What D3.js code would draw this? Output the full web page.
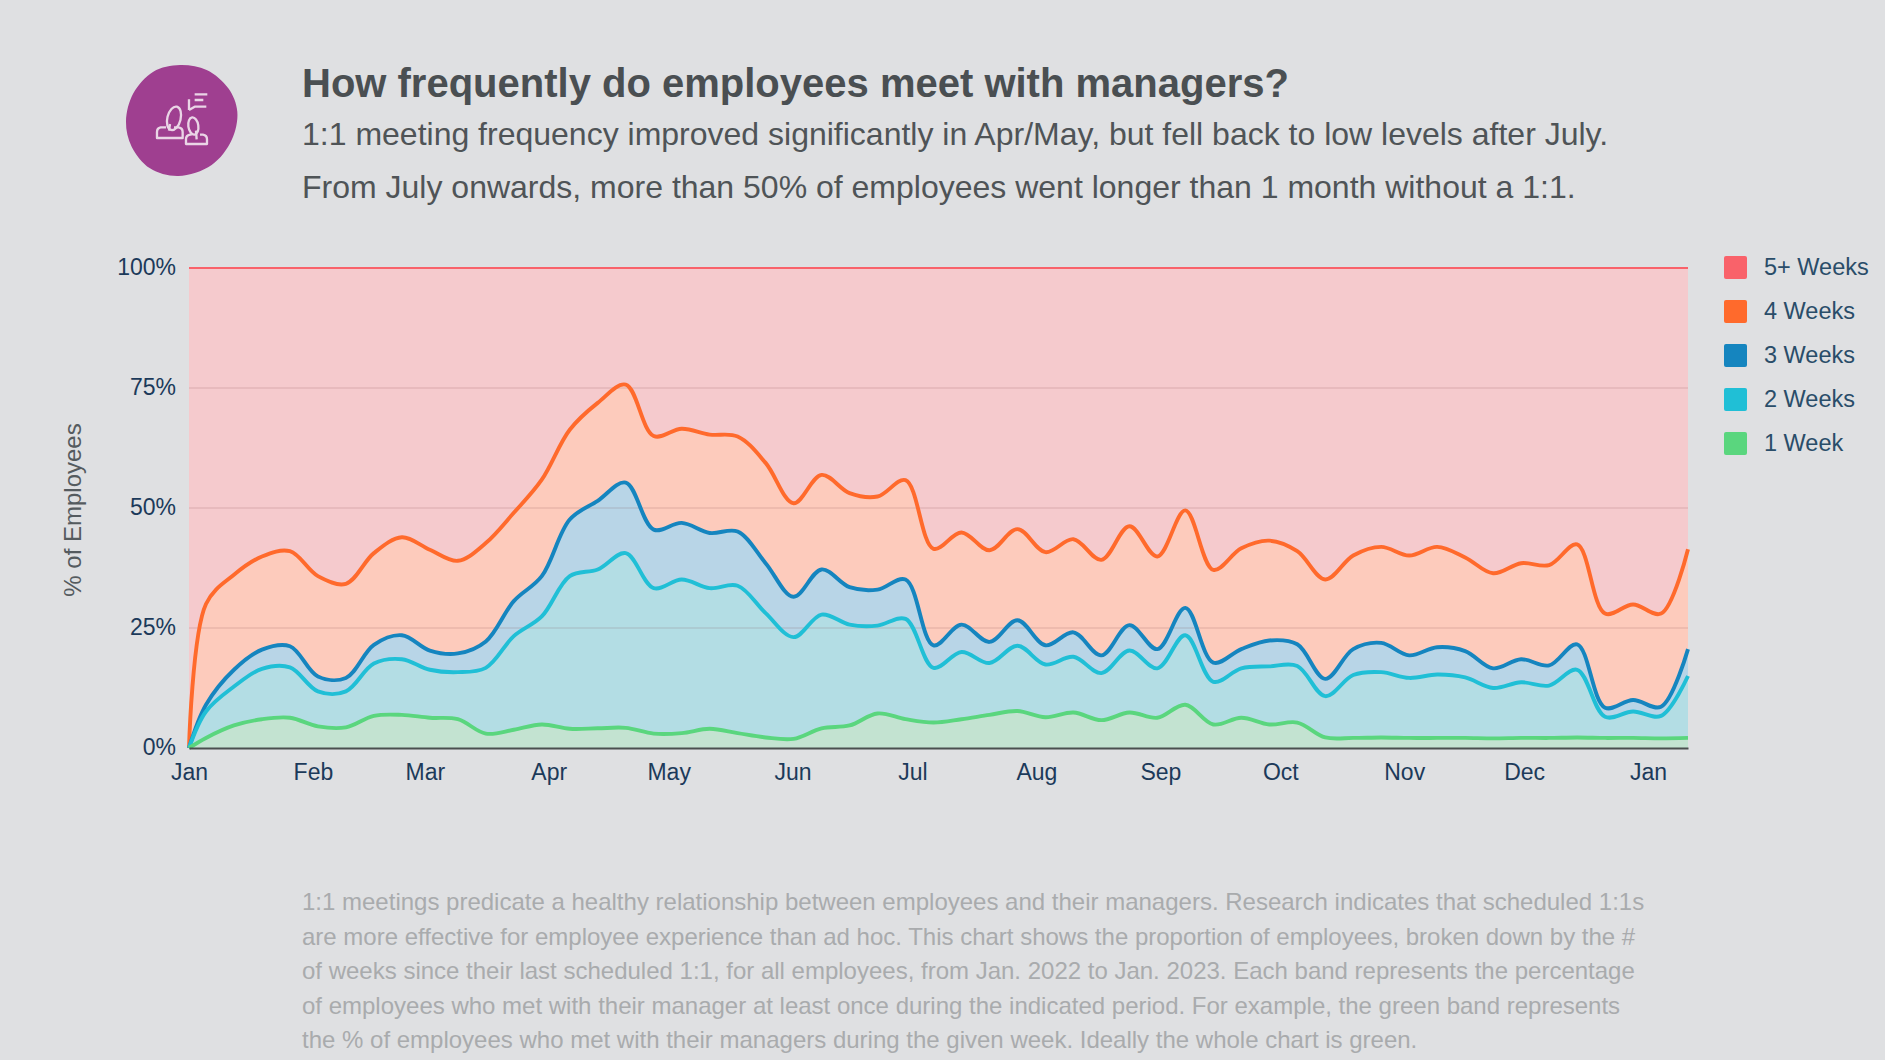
<!DOCTYPE html>
<html>
<head>
<meta charset="utf-8">
<script src="https://cdn.jsdelivr.net/npm/d3@7/dist/d3.min.js"></script>
<style>
body { margin: 0; background: #dfe0e2; }
svg { display: block; font-family: "Liberation Sans", Arial, sans-serif; }
</style>
</head>
<body>
<svg width="1885" height="1060"></svg>
<script>
// I. Data
// weekly readings, cumulative % of employees (first point = Jan 1, last = end of the axis)
let oneWeek = [0, 2.1, 4.7, 6, 6.3, 4.5, 4.3, 6.7, 6.9, 6.3, 6, 3, 3.8, 4.9, 4, 4.1, 4.2, 3, 3.1, 4, 3.1, 2.2, 1.9, 4.1, 4.7, 7.2, 6, 5.3, 6, 6.9, 7.7, 6.4, 7.4, 5.8, 7.4, 6.3, 9, 4.9, 6.3, 4.9, 5.3, 2.2, 2.1, 2.2, 2.1, 2.1, 2.1, 2, 2.1, 2.1, 2.2, 2.1, 2.1, 2, 2.1];
let twoWeeks = [0, 7.6, 12.8, 16.5, 16.8, 11.8, 11.8, 17.6, 18.5, 16.3, 15.8, 16.7, 23.3, 27.4, 35.8, 37.2, 40.6, 33.3, 35.1, 33.3, 33.8, 28.1, 23.1, 27.8, 25.7, 25.5, 26.9, 16.7, 20, 17.7, 21.3, 17.4, 19, 15.6, 20.3, 16.6, 23.5, 13.8, 16.6, 17, 17.1, 10.8, 15.2, 15.8, 14.6, 15.3, 14.7, 12.5, 13.7, 13, 16.3, 6.5, 7.6, 6.7, 15];
let threeWeeks = [0, 9, 16.3, 20.5, 21.2, 14.9, 14.6, 21.5, 23.5, 20.3, 19.7, 22.2, 30.6, 35.8, 47.6, 51.5, 55.3, 45.5, 46.9, 44.8, 45.1, 38.5, 31.5, 37.2, 33.5, 33, 35.1, 21.4, 25.7, 22.1, 26.6, 21.4, 24.1, 19.3, 25.6, 20.6, 29.2, 17.8, 20.6, 22.4, 21.6, 14.4, 20.6, 21.9, 19.3, 21, 20.2, 16.6, 18.5, 17.2, 21.6, 8.4, 10, 8.6, 20.6];
let fourWeeks = [0, 30, 36.1, 39.9, 41, 35.8, 34.2, 40.6, 43.9, 41.3, 39, 42.7, 49, 55.9, 66.3, 71.9, 75.7, 65, 66.5, 65.3, 64.9, 59.4, 51, 56.9, 53.1, 52.4, 55.8, 41.5, 44.9, 41.2, 45.6, 40.8, 43.5, 39.2, 46.2, 39.9, 49.5, 37.1, 41.6, 43.2, 41, 35.1, 40.1, 41.9, 40.1, 41.9, 39.7, 36.4, 38.5, 38.1, 42.4, 28, 29.9, 28, 41.4];
let fiveWeeks = oneWeek.map(() => 100);

let seriesNames = ["5+ Weeks", "4 Weeks", "3 Weeks", "2 Weeks", "1 Week"];
let lineColors = ["#f9626a", "#ff6a2c", "#1585bf", "#20bfd6", "#5ad67e"];
let bandColors = ["#f5cacd", "#fdcbbc", "#b8d5e7", "#b3dde4", "#c3e3d1"];
let seriesValues = [fiveWeeks, fourWeeks, threeWeeks, twoWeeks, oneWeek];

let yTicks = [0, 25, 50, 75, 100];

let subtitleLines = [
    "1:1 meeting frequency improved significantly in Apr/May, but fell back to low levels after July.",
    "From July onwards, more than 50% of employees went longer than 1 month without a 1:1."
];
let noteLines = [
    "1:1 meetings predicate a healthy relationship between employees and their managers. Research indicates that scheduled 1:1s",
    "are more effective for employee experience than ad hoc. This chart shows the proportion of employees, broken down by the #",
    "of weeks since their last scheduled 1:1, for all employees, from Jan. 2022 to Jan. 2023. Each band represents the percentage",
    "of employees who met with their manager at least once during the indicated period. For example, the green band represents",
    "the % of employees who met with their managers during the given week. Ideally the whole chart is green."
];

// dates of the points
let dates = [new Date(2022, 0, 1)];
for (let k = 0; k < 53; k++) dates.push(new Date(2022, 0, 5 + 7 * k, 6));
dates.push(new Date(2023, 0, 11));

// II. Drawing
let svg = d3.select("svg");

let x = d3.scaleTime().domain([dates[0], dates[dates.length - 1]]).range([189, 1688]);
let y = d3.scaleLinear().domain([0, 100]).range([748, 268]);

// bands
let band = d3.area()
    .x(d => x(d.date))
    .y0(d => y(d.low))
    .y1(d => y(d.high))
    .curve(d3.curveCatmullRom);

let line = d3.line()
    .x(d => x(d.date))
    .y(d => y(d.high))
    .curve(d3.curveCatmullRom);

seriesValues.forEach(function (values, i) {
    let lower = seriesValues[i + 1];
    let points = values.map((v, j) => ({ date: dates[j], high: v, low: lower ? lower[j] : 0 }));
    svg.append("path").attr("d", band(points)).attr("fill", bandColors[i]);
});

// grid
svg.append("g").selectAll("line")
    .data(yTicks.filter(t => t > 0 && t < 100))
    .join("line")
    .attr("x1", x.range()[0])
    .attr("x2", x.range()[1])
    .attr("y1", d => y(d))
    .attr("y2", d => y(d))
    .attr("stroke", "rgba(120,60,60,0.11)")
    .attr("stroke-width", 2);

// lines on top of the bands
seriesValues.forEach(function (values, i) {
    let points = values.map((v, j) => ({ date: dates[j], high: v }));
    svg.append("path")
        .attr("d", line(points))
        .attr("fill", "none")
        .attr("stroke", lineColors[i])
        .attr("stroke-width", i == 0 ? 2 : 3.9);
});

// axes
let axeX = svg.append("g")
    .attr("transform", "translate(0," + y(0) + ")")
    .call(d3.axisBottom(x).ticks(d3.timeMonth.every(1)).tickFormat(d3.timeFormat("%b")).tickSize(0).tickPadding(16));
axeX.select(".domain").attr("stroke", "#4a4f4f").attr("stroke-width", 2);
axeX.selectAll("text").attr("font-size", 23).attr("font-family", "Liberation Sans").attr("fill", "#1c3a5a");

let axeY = svg.append("g")
    .attr("transform", "translate(188,-0.5)")
    .call(d3.axisLeft(y).tickValues(yTicks).tickFormat(d => d + "%").tickSize(0).tickPadding(12));
axeY.select(".domain").remove();
axeY.selectAll("text").attr("font-size", 23).attr("font-family", "Liberation Sans").attr("fill", "#1c3a5a");

svg.append("text")
    .attr("transform", "translate(81,510) rotate(-90)")
    .attr("text-anchor", "middle")
    .attr("font-size", 24)
    .attr("fill", "#555b5f")
    .text("% of Employees");

// legend
let legend = svg.append("g").selectAll("g")
    .data(seriesNames)
    .join("g")
    .attr("transform", (d, i) => "translate(1724," + (256 + i * 44) + ")");
legend.append("rect")
    .attr("width", 23)
    .attr("height", 23)
    .attr("rx", 2)
    .attr("fill", (d, i) => lineColors[i]);
legend.append("text")
    .attr("x", 40)
    .attr("y", 19)
    .attr("font-size", 23.5)
    .attr("fill", "#2a4d69")
    .text(d => d);

// header
svg.append("text")
    .attr("x", 302)
    .attr("y", 97)
    .attr("font-size", 40)
    .attr("font-weight", "bold")
    .attr("fill", "#4a4f52")
    .text("How frequently do employees meet with managers?");

svg.append("g").selectAll("text")
    .data(subtitleLines)
    .join("text")
    .attr("x", 302)
    .attr("y", (d, i) => 145 + i * 53)
    .attr("font-size", 32)
    .attr("fill", "#4f5457")
    .text(d => d);

svg.append("g").selectAll("text")
    .data(noteLines)
    .join("text")
    .attr("x", 302)
    .attr("y", (d, i) => 910 + i * 34.6)
    .attr("font-size", 24)
    .attr("fill", "#a9abad")
    .text(d => d);

// round icon
let icone = svg.append("g").attr("transform", "translate(100,40) scale(0.3333)");
let blob = [[240, 75], [320, 90], [385, 145], [412, 215], [395, 300], [335, 375], [235, 408], [150, 385], [95, 320], [78, 245], [100, 160], [160, 95]];
icone.append("path")
    .attr("d", d3.line().curve(d3.curveCatmullRomClosed)(blob))
    .attr("fill", "#9f3f90");

let trait = icone.append("g")
    .attr("fill", "none")
    .attr("stroke", "#ead5e6")
    .attr("stroke-width", 7)
    .attr("stroke-linejoin", "round");
trait.append("ellipse").attr("cx", 222).attr("cy", 235).attr("rx", 20).attr("ry", 36).attr("transform", "rotate(14 222 235)");
trait.append("path").attr("d", "M210,252 L207,272 M198,262 H182 Q171,264 171,276 V294 H248 V276 Q248,264 236,262 H222");
trait.append("ellipse").attr("cx", 280).attr("cy", 258).attr("rx", 15).attr("ry", 26).attr("transform", "rotate(-8 280 258)");
trait.append("path").attr("d", "M288,272 L290,298 M275,284 H270 Q258,286 258,298 V312 H321 V298 Q321,286 309,284 H300");
trait.append("path").attr("d", "M267,210 V178 M267,210 L284,200 H319 M284,163 H322 M284,180 H310");
</script>
</body>
</html>
